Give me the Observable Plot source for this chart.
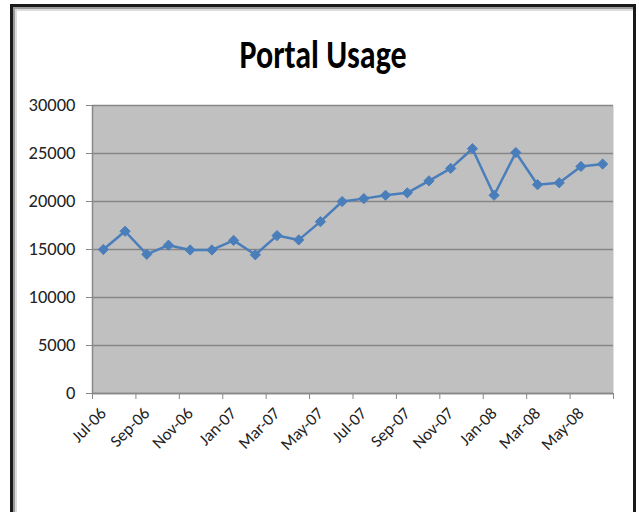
<!DOCTYPE html>
<html><head><meta charset="utf-8">
<script src="https://cdn.jsdelivr.net/npm/d3@7"></script>
<script src="https://cdn.jsdelivr.net/npm/@observablehq/plot@0.6"></script>
<style>
body{margin:0;background:#fff;}
#wrap{position:relative;width:639px;height:512px;overflow:hidden;font-family:Carlito,Lato,"Open Sans",sans-serif;}
#frame{position:absolute;left:10px;top:4px;width:620px;height:520px;border:3px solid #1a1a1a;box-shadow:inset 2px 2px 0 #9a9a9a, inset 4px 4px 0 #dcdcdc;}
#title{position:absolute;left:10px;width:626px;top:30px;text-align:center;font-family:"Liberation Sans Narrow",Carlito,"Liberation Sans",sans-serif;font-weight:bold;font-size:32px;line-height:40px;color:#000;transform:scaleY(1.25);transform-origin:50% 0;}
#chart{position:absolute;left:0;top:0;}
</style></head>
<body>
<div id="wrap"><div id="frame"></div><div id="title">Portal Usage</div><div id="chart"></div></div>
<script>
const months = ["Jul-06","Aug-06","Sep-06","Oct-06","Nov-06","Dec-06","Jan-07","Feb-07","Mar-07","Apr-07","May-07","Jun-07",
                "Jul-07","Aug-07","Sep-07","Oct-07","Nov-07","Dec-07","Jan-08","Feb-08","Mar-08","Apr-08","May-08","Jun-08"];
const usage = [15000,16900,14500,15450,14950,14950,15950,14450,16450,16000,17900,20000,
               20300,20650,20900,22150,23450,25500,20650,25100,21750,21950,23650,23900];
const xTickLabels = ["Jul-06","Sep-06","Nov-06","Jan-07","Mar-07","May-07","Jul-07","Sep-07","Nov-07","Jan-08","Mar-08","May-08"];
const yTicks = [0,5000,10000,15000,20000,25000,30000];

const data = months.map((m, i) => ({i, month: m, value: usage[i]}));
const labelPos = xTickLabels.map(l => months.indexOf(l));
const boundaries = d3.range(0, months.length + 1, 2).map(k => k - 0.5);

const chart = Plot.plot({
  width: 639, height: 512,
  marginLeft: 92, marginRight: 26, marginTop: 105, marginBottom: 119,
  x: {domain: [-0.5, months.length - 0.5], label: null},
  y: {domain: [0, 30000], label: null},
  style: {fontFamily: 'Carlito, Lato, "Open Sans", sans-serif', color: "#000", background: "transparent"},
  marks: [
    Plot.frame({fill: "#c0c0c0", stroke: "none"}),
    Plot.gridY({ticks: yTicks, stroke: "#868686", strokeOpacity: 1, strokeWidth: 1.5}),
    Plot.axisY({ticks: yTicks, tickSize: 6, tickPadding: 11, tickFormat: d => String(d), stroke: "#888", label: null}),
    Plot.ruleX([-0.5], {stroke: "#888", strokeWidth: 1.5}),
    Plot.ruleY([0], {stroke: "#888", strokeWidth: 1.5}),
    Plot.axisX({ticks: boundaries, tickSize: 6, tickFormat: () => "", stroke: "#888", label: null}),
    Plot.axisX({ticks: labelPos, tickSize: 0, tickPadding: 17, tickRotate: -45, tickFormat: i => months[i], label: null}),
    Plot.line(data, {x: "i", y: "value", stroke: "#4a7ebb", strokeWidth: 2.5}),
    Plot.dot(data, {x: "i", y: "value", symbol: "diamond2", r: 4.6, fill: "#4a7ebb", stroke: "#4a7ebb", strokeWidth: 1})
  ]
});
// enlarge tick label text to the reference's size
const ySet = new Set(yTicks.map(String));
const xSet = new Set(xTickLabels);
d3.select(chart).selectAll("text").each(function() {
  const t = this.textContent;
  if (ySet.has(t)) { this.style.fontSize = "18.5px"; this.style.fill = "#222"; }
  else if (xSet.has(t)) { this.style.fontSize = "17px"; this.style.fill = "#222"; }
});
document.getElementById("chart").appendChild(chart);
</script>
</body></html>
